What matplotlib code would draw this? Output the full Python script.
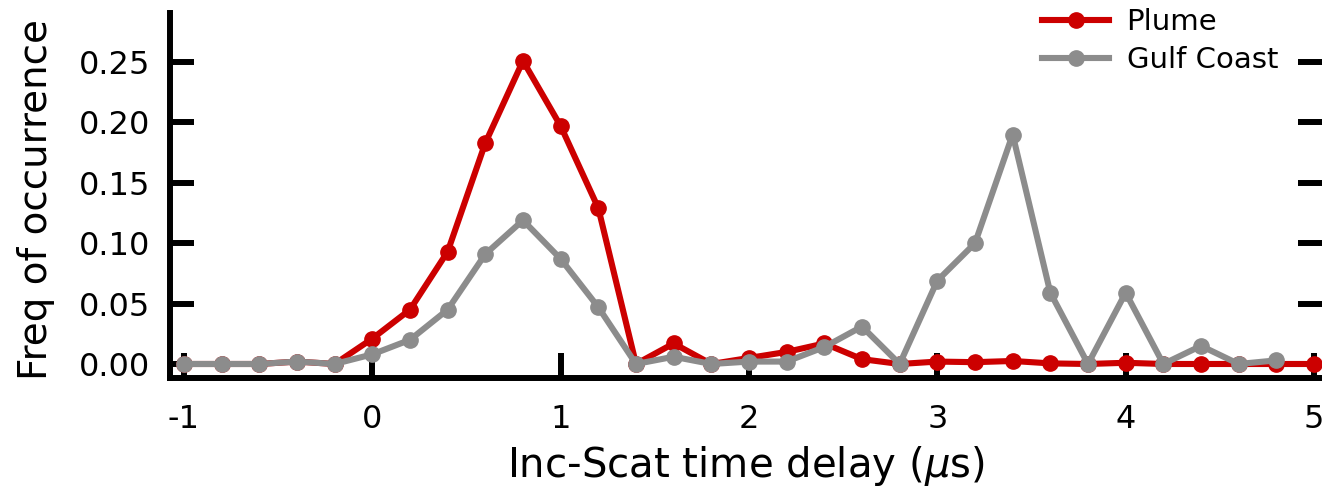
import numpy as np
import matplotlib
matplotlib.use("Agg")
import matplotlib.pyplot as plt

x_plume = [-1.0, -0.8, -0.6, -0.4, -0.2, 0.0, 0.2, 0.4, 0.6, 0.8, 1.0, 1.2, 1.4, 1.6, 1.8,
           2.0, 2.2, 2.4, 2.6, 2.8, 3.0, 3.2, 3.4, 3.6, 3.8, 4.0, 4.2, 4.4, 4.6, 4.8, 5.0]
plume = [0.0, 0.0, 0.0, 0.002, 0.0, 0.021, 0.045, 0.093, 0.183, 0.251, 0.197, 0.129, 0.0, 0.017, 0.0,
         0.005, 0.010, 0.017, 0.004, 0.0, 0.002, 0.0015, 0.0025, 0.0005, 0.0, 0.001, 0.0, 0.0, 0.0, 0.0, 0.0]

x_gulf = [-1.0, -0.8, -0.6, -0.4, -0.2, 0.0, 0.2, 0.4, 0.6, 0.8, 1.0, 1.2, 1.4, 1.6, 1.8,
          2.0, 2.2, 2.4, 2.6, 2.8, 3.0, 3.2, 3.4, 3.6, 3.8, 4.0, 4.2, 4.4, 4.6, 4.8]
gulf = [0.0, 0.0, 0.0, 0.002, 0.0, 0.008, 0.020, 0.045, 0.091, 0.119, 0.087, 0.047, 0.0, 0.006, 0.0,
        0.002, 0.002, 0.014, 0.031, 0.0, 0.069, 0.100, 0.190, 0.059, 0.0, 0.059, 0.0, 0.015, 0.0, 0.003]

x_ticks = [-1, 0, 1, 2, 3, 4, 5]
y_ticks = [0.00, 0.05, 0.10, 0.15, 0.20, 0.25]
y_ticklabels = ["0.00", "0.05", "0.10", "0.15", "0.20", "0.25"]

plt.rcParams['font.family'] = ['DejaVu Sans']

fig = plt.figure(figsize=(13.22, 4.94), dpi=100)
ax = fig.add_axes([170/1322, (494-378)/494, 1 - 170/1322, (378-13)/494])

red = '#CC0000'
gray = '#8C8C8C'
ax.plot(x_plume, plume, color=red, lw=4.4, marker='o', ms=11, label='Plume', zorder=3)
ax.plot(x_gulf, gulf, color=gray, lw=4.4, marker='o', ms=11, label='Gulf Coast', zorder=4)

ax.set_xlim(-1.0743, 5.0425)
ax.set_ylim(-0.0116, 0.2906)

for s in ['top', 'right']:
    ax.spines[s].set_visible(False)
for s in ['left', 'bottom']:
    ax.spines[s].set_linewidth(4.3)
    ax.spines[s].set_capstyle('projecting')

ax.set_xticks(x_ticks)
ax.set_xticklabels([str(t) for t in x_ticks])
ax.set_yticks(y_ticks)
ax.set_yticklabels(y_ticklabels)
ax.tick_params(axis='x', direction='in', length=18, width=4.3, labelsize=23, pad=19)
ax.tick_params(axis='y', direction='in', length=17, width=4.3, labelsize=23, pad=14,
               right=True)

ax.set_xlabel('Inc-Scat time delay ($\\mu$s)', fontsize=29, labelpad=6)
ax.set_ylabel('Freq of occurrence', fontsize=28)
ax.yaxis.set_label_coords(-0.1, 0.49)

leg = ax.legend(loc='upper right', bbox_to_anchor=(0.972, 1.045), frameon=False, fontsize=21,
                handlelength=2.3, handletextpad=0.6, labelspacing=0.35, borderaxespad=0)

fig.savefig('out.png', dpi=100)
